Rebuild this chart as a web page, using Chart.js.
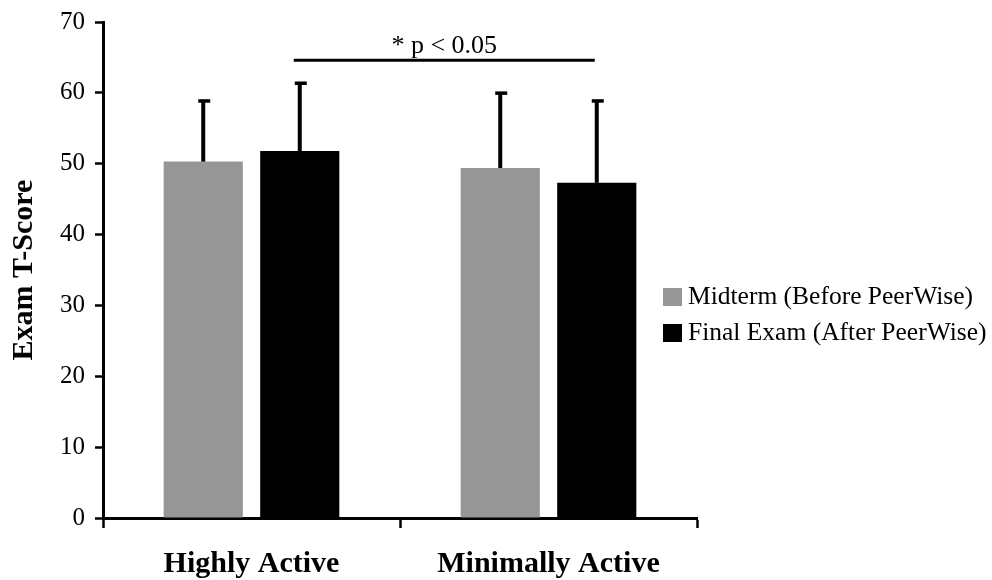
<!DOCTYPE html>
<html>
<head>
<meta charset="utf-8">
<script src="https://cdn.jsdelivr.net/npm/chart.js@4"></script>
<style>
  html, body { margin: 0; padding: 0; background: #fff; }
  #wrap { width: 992px; height: 580px; position: relative; }
</style>
</head>
<body>
<div id="wrap"><canvas id="chart"></canvas></div>
<script>
// data
const categories = ["Highly Active", "Minimally Active"];
const midterm = [50.3, 49.4];
const midtermErr = [8.7, 10.7];
const finalExam = [51.8, 47.3];
const finalErr = [9.7, 11.7];
const seriesNames = ["Midterm (Before PeerWise)", "Final Exam (After PeerWise)"];
const sigLevel = 64.6;
const sigText = "* p < 0.05";

const serif = "'Liberation Serif', 'Times New Roman', serif";

// error bars (upper only), significance bracket and legend
const extras = {
  id: "extras",
  afterDatasetsDraw(chart) {
    const ctx = chart.ctx;
    const y = chart.scales.y;
    const errs = [midtermErr, finalErr];
    const vals = [midterm, finalExam];
    ctx.save();
    ctx.strokeStyle = "#000";
    ctx.lineCap = "butt";
    chart.data.datasets.forEach(function (ds, i) {
      chart.getDatasetMeta(i).data.forEach(function (bar, j) {
        const top = y.getPixelForValue(vals[i][j] + errs[i][j]);
        ctx.lineWidth = 4;
        ctx.beginPath();
        ctx.moveTo(bar.x, bar.y);
        ctx.lineTo(bar.x, top);
        ctx.stroke();
        ctx.lineWidth = 3.5;
        ctx.beginPath();
        ctx.moveTo(bar.x - 5, top + 1);
        ctx.lineTo(bar.x + 7, top + 1);
        ctx.stroke();
      });
    });

    // significance line between the final exam bars
    const fin = chart.getDatasetMeta(1).data;
    const sy = y.getPixelForValue(sigLevel);
    ctx.lineWidth = 3;
    ctx.beginPath();
    ctx.moveTo(fin[0].x - 6, sy);
    ctx.lineTo(fin[1].x - 2, sy);
    ctx.stroke();
    ctx.fillStyle = "#000";
    ctx.font = "26px " + serif;
    ctx.textAlign = "center";
    ctx.textBaseline = "alphabetic";
    ctx.fillText(sigText, (fin[0].x + fin[1].x) / 2 - 4, sy - 7);

    // legend
    ctx.font = "25.5px " + serif;
    ctx.textAlign = "left";
    ctx.textBaseline = "middle";
    chart.data.datasets.forEach(function (ds, i) {
      const ly = 297 + i * 36;
      ctx.fillStyle = ds.backgroundColor;
      ctx.fillRect(663, ly - 9, 19, 18);
      ctx.fillStyle = "#000";
      ctx.fillText(ds.label, 688, ly);
    });
    ctx.restore();
  }
};

new Chart(document.getElementById("chart").getContext("2d"), {
  type: "bar",
  data: {
    labels: categories,
    datasets: [
      {
        label: seriesNames[0],
        data: midterm,
        backgroundColor: "#969696",
        categoryPercentage: 0.65,
        barPercentage: 0.82,
      },
      {
        label: seriesNames[1],
        data: finalExam,
        backgroundColor: "#000000",
        categoryPercentage: 0.65,
        barPercentage: 0.82,
      },
    ],
  },
  options: {
    responsive: true,
    maintainAspectRatio: false,
    animation: false,
    layout: { padding: { top: 22, right: 295, left: 0, bottom: 0 } },
    plugins: {
      legend: { display: false },
      tooltip: { enabled: false },
    },
    scales: {
      x: {
        afterFit(scale) { scale.height = 62; },
        grid: {
          drawOnChartArea: false,
          drawTicks: true,
          tickLength: 10,
          tickWidth: 2.5,
          tickColor: "#000",
        },
        border: { display: true, color: "#000", width: 3 },
        ticks: {
          color: "#000",
          font: { family: serif, size: 30, weight: "bold" },
          padding: 18,
        },
      },
      y: {
        min: 0,
        max: 70,
        afterFit(scale) { scale.width = 103; },
        grid: {
          drawOnChartArea: false,
          drawTicks: true,
          tickLength: 8,
          tickWidth: 2.5,
          tickColor: "#000",
        },
        border: { display: true, color: "#000", width: 3 },
        ticks: {
          stepSize: 10,
          color: "#000",
          font: { family: serif, size: 25, lineHeight: 0.9 },
          padding: 10,
        },
        title: {
          display: true,
          text: "Exam T-Score",
          color: "#000",
          font: { family: serif, size: 30, weight: "bold" },
          padding: { top: 6, bottom: 0 },
        },
      },
    },
  },
  plugins: [extras],
});
</script>
</body>
</html>
